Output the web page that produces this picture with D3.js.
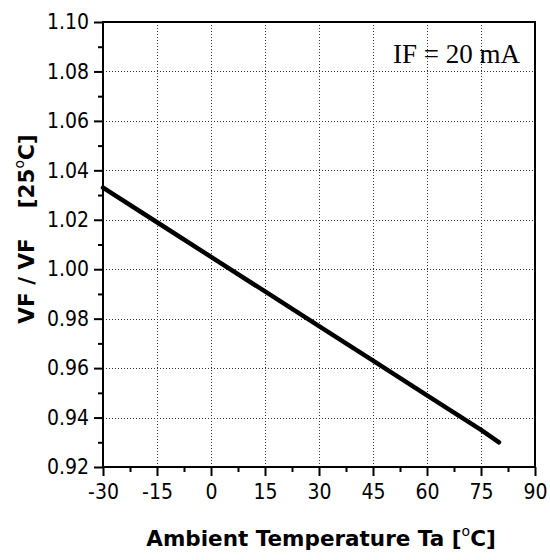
<!DOCTYPE html>
<html>
<head>
<meta charset="utf-8">
<script src="https://cdn.jsdelivr.net/npm/d3@7"></script>
<style>
  html, body { margin: 0; padding: 0; background: #fff; }
  svg { display: block; }
  .tick text { font-family: "DejaVu Sans Condensed", "DejaVu Sans", sans-serif; font-stretch: condensed; font-size: 21px; fill: #000; }
  .title { font-family: "DejaVu Sans", sans-serif; font-weight: bold; font-size: 21.5px; fill: #000; }
  .sup { font-weight: normal; font-size: 14px; }
  .note { font-family: "Liberation Serif", "Times New Roman", serif; font-size: 27px; fill: #000; }
</style>
</head>
<body>
<script>
// Relative forward voltage vs ambient temperature (IF = 20 mA)
const temps = [-30, -15, 0, 15, 30, 45, 60, 75, 80];
const ratio = [1.033, 1.019, 1.005, 0.991, 0.977, 0.963, 0.949, 0.935, 0.930];
const xTicks = [-30, -15, 0, 15, 30, 45, 60, 75, 90];
const yTicks = [0.92, 0.94, 0.96, 0.98, 1.00, 1.02, 1.04, 1.06, 1.08, 1.10];
const xMinor = [-22.5, -7.5, 7.5, 22.5, 37.5, 52.5, 67.5, 82.5];
const yMinor = [0.93, 0.95, 0.97, 0.99, 1.01, 1.03, 1.05, 1.07, 1.09];

const W = 550, H = 560;
const m = { left: 103, right: 15, top: 22, bottom: 93 };
const iw = W - m.left - m.right, ih = H - m.top - m.bottom;

const svg = d3.select("body").append("svg").attr("width", W).attr("height", H);
const g = svg.append("g").attr("transform", `translate(${m.left},${m.top})`);

const x = d3.scaleLinear().domain([-30, 90]).range([0, iw]);
const y = d3.scaleLinear().domain([0.92, 1.10]).range([ih, 0]);

// dotted grid
const grid = g.append("g").attr("stroke", "#333").attr("stroke-width", 1).attr("stroke-dasharray", "1,2");
grid.selectAll("line.v").data(xTicks.slice(1, -1)).join("line")
  .attr("x1", d => Math.round(x(d)) + 0.5).attr("x2", d => Math.round(x(d)) + 0.5)
  .attr("y1", 0).attr("y2", ih);
grid.selectAll("line.h").data(yTicks.slice(1, -1)).join("line")
  .attr("y1", d => Math.round(y(d)) + 0.5).attr("y2", d => Math.round(y(d)) + 0.5)
  .attr("x1", 0).attr("x2", iw);

// minor ticks
g.append("g").attr("transform", `translate(0,${ih})`)
  .call(d3.axisBottom(x).tickValues(xMinor).tickSize(5).tickFormat("").tickSizeOuter(0))
  .call(a => a.select(".domain").remove())
  .call(a => a.selectAll("line").attr("stroke-width", 2));
g.append("g")
  .call(d3.axisLeft(y).tickValues(yMinor).tickSize(5).tickFormat("").tickSizeOuter(0))
  .call(a => a.select(".domain").remove())
  .call(a => a.selectAll("line").attr("stroke-width", 2));

// major axes
g.append("g").attr("transform", `translate(0,${ih})`)
  .call(d3.axisBottom(x).tickValues(xTicks).tickSize(9).tickPadding(8).tickSizeOuter(0).tickFormat(d => String(d)))
  .call(a => a.select(".domain").remove())
  .call(a => a.selectAll("line").attr("stroke-width", 2));
g.append("g")
  .call(d3.axisLeft(y).tickValues(yTicks).tickSize(9).tickPadding(5).tickSizeOuter(0).tickFormat(d3.format(".2f")))
  .call(a => a.select(".domain").remove())
  .call(a => a.selectAll("line").attr("stroke-width", 2));

// frame
g.append("rect").attr("x", 0).attr("y", 0).attr("width", iw).attr("height", ih)
  .attr("fill", "none").attr("stroke", "#000").attr("stroke-width", 2);

// curve
g.append("path").datum(temps.map((t, i) => [t, ratio[i]]))
  .attr("fill", "none").attr("stroke", "#000").attr("stroke-width", 4.5)
  .attr("stroke-linecap", "round").attr("stroke-linejoin", "round")
  .attr("d", d3.line().x(d => x(d[0])).y(d => y(d[1])));

// condition note
g.append("text").attr("class", "note").attr("x", iw - 15).attr("y", 41)
  .attr("text-anchor", "end").text("IF = 20 mA");

// x title
const xt = svg.append("text").attr("class", "title")
  .attr("x", 321).attr("y", 546).attr("text-anchor", "middle");
xt.append("tspan").text("Ambient Temperature Ta [");
xt.append("tspan").attr("class", "sup").attr("dy", -10).text("o");
xt.append("tspan").attr("dy", 10).text("C]");

// y title
const yt = svg.append("text").attr("class", "title")
  .attr("transform", "translate(34,229) rotate(-90)").attr("text-anchor", "middle");
yt.append("tspan").text("VF / VF\u00a0\u00a0\u00a0\u00a0[25");
yt.append("tspan").attr("class", "sup").attr("dy", -10).text("o");
yt.append("tspan").attr("dy", 10).text("C]");
</script>
</body>
</html>
